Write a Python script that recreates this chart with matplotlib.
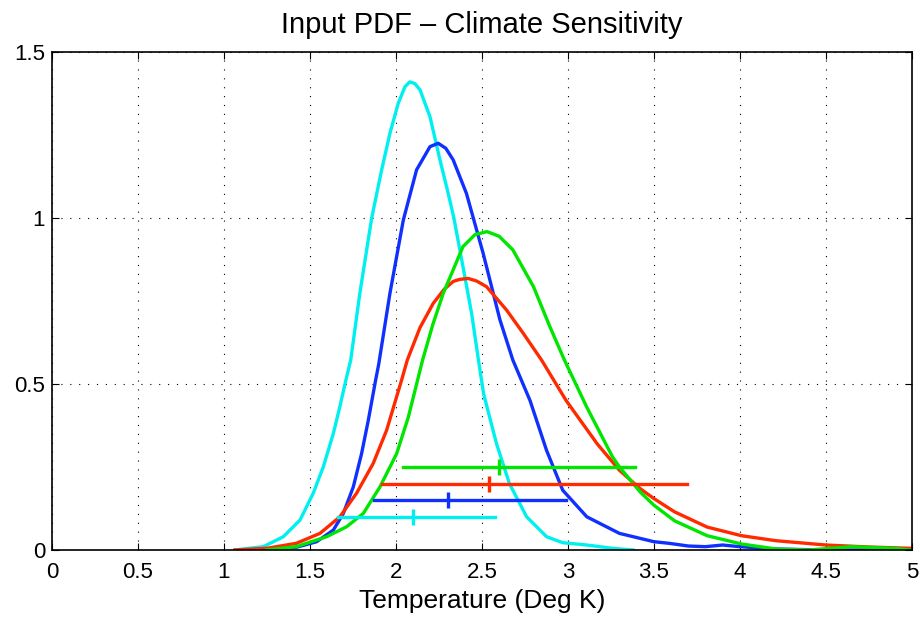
import numpy as np
import matplotlib
matplotlib.use("Agg")
import matplotlib.pyplot as plt

plt.rcParams['font.family'] = ['Liberation Sans', 'DejaVu Sans']

# pdf curves
cyan_x = [1.064, 1.229, 1.345, 1.442, 1.519, 1.578, 1.636, 1.674, 1.709, 1.737, 1.79, 1.859, 1.917,
          1.965, 2.013, 2.052, 2.08, 2.11, 2.14, 2.198, 2.256, 2.304, 2.337, 2.39, 2.44, 2.48, 2.51,
          2.585, 2.66, 2.76, 2.876, 2.97, 3.11, 3.26, 3.38]
cyan_y = [0.0, 0.01, 0.04, 0.09, 0.171, 0.251, 0.351, 0.432, 0.512, 0.572, 0.773, 1.0, 1.145,
          1.255, 1.345, 1.395, 1.41, 1.405, 1.386, 1.305, 1.175, 1.074, 1.0, 0.853, 0.713, 0.572, 0.47,
          0.32, 0.20, 0.10, 0.04, 0.022, 0.015, 0.005, 0.0]

blue_x = [1.1, 1.3, 1.42, 1.539, 1.636, 1.694, 1.752, 1.80, 1.839, 1.882, 1.90, 1.965, 2.043, 2.12,
          2.198, 2.246, 2.29, 2.333, 2.41, 2.507, 2.605, 2.68, 2.78, 2.876, 2.97, 3.11, 3.30, 3.50,
          3.59, 3.7, 3.8, 3.9, 4.0, 4.2, 4.5, 5.0]
blue_y = [0.0, 0.003, 0.008, 0.025, 0.06, 0.11, 0.19, 0.29, 0.39, 0.512, 0.56, 0.773, 0.994, 1.145,
          1.215, 1.225, 1.21, 1.175, 1.074, 0.894, 0.693, 0.572, 0.45, 0.30, 0.18, 0.10, 0.05, 0.025,
          0.02, 0.012, 0.01, 0.015, 0.01, 0.003, 0.0, 0.0]

red_x = [1.064, 1.248, 1.42, 1.558, 1.674, 1.771, 1.868, 1.946, 2.033, 2.066, 2.14, 2.217, 2.28,
         2.333, 2.37, 2.42, 2.47, 2.527, 2.643, 2.74, 2.847, 2.99, 3.17, 3.30, 3.42, 3.50, 3.62,
         3.81, 4.01, 4.21, 4.5, 4.75, 5.0]
red_y = [0.0, 0.005, 0.02, 0.05, 0.10, 0.171, 0.261, 0.361, 0.512, 0.572, 0.67, 0.743, 0.785,
         0.809, 0.815, 0.818, 0.81, 0.793, 0.723, 0.653, 0.572, 0.45, 0.32, 0.24, 0.185, 0.155, 0.115,
         0.069, 0.043, 0.028, 0.015, 0.009, 0.005]

green_x = [1.248, 1.42, 1.597, 1.713, 1.81, 1.907, 2.004, 2.072, 2.126, 2.155, 2.215, 2.275, 2.39,
           2.46, 2.53, 2.60, 2.68, 2.80, 2.895, 2.98, 3.11, 3.26, 3.30, 3.38, 3.42, 3.50, 3.62, 3.81,
           4.01, 4.21, 4.4, 4.65, 4.9, 5.0]
green_y = [0.0, 0.01, 0.04, 0.07, 0.11, 0.19, 0.29, 0.40, 0.512, 0.572, 0.68, 0.773, 0.914,
           0.95, 0.959, 0.945, 0.904, 0.793, 0.673, 0.572, 0.43, 0.28, 0.25, 0.20, 0.175, 0.135, 0.088,
           0.043, 0.018, 0.003, 0.0, 0.01, 0.005, 0.0]

# range bars: (low, median, high) at given height
bar_names = ['green', 'red', 'blue', 'cyan']
bar_level = [0.25, 0.20, 0.15, 0.10]
bar_low = [2.04, 1.92, 1.87, 1.665]
bar_med = [2.60, 2.54, 2.30, 2.10]
bar_high = [3.39, 3.69, 2.99, 2.576]

colors = {'cyan': '#00f0f0', 'blue': '#1030ff', 'red': '#ff2a00', 'green': '#00e600'}

fig = plt.figure(figsize=(9.21, 6.17), dpi=100)
ax = fig.add_axes([0.0565, 0.1086, 0.9335, 0.8071])

lw = 2.4
ax.plot(cyan_x, cyan_y, color=colors['cyan'], lw=lw, solid_joinstyle='round')
ax.plot(blue_x, blue_y, color=colors['blue'], lw=lw, solid_joinstyle='round')
ax.plot(red_x, red_y, color=colors['red'], lw=lw, solid_joinstyle='round')
ax.plot(green_x, green_y, color=colors['green'], lw=lw, solid_joinstyle='round')

for name, yv, lo, md, hi in zip(bar_names, bar_level, bar_low, bar_med, bar_high):
    ax.plot([lo, hi], [yv, yv], color=colors[name], lw=lw)
    ax.plot([md], [yv], marker='|', color=colors[name], ms=12, mew=2.4)

ax.set_xlim(0, 5)
ax.set_ylim(0, 1.5)
ax.set_xticks(np.arange(0, 5.01, 0.5))
ax.set_xticklabels(['0', '0.5', '1', '1.5', '2', '2.5', '3', '3.5', '4', '4.5', '5'])
ax.set_yticks([0, 0.5, 1, 1.5])
ax.set_yticklabels(['0', '0.5', '1', '1.5'])
ax.grid(True, color='black', linestyle=(0, (1, 7)), linewidth=0.8)
ax.tick_params(direction='in', top=True, right=True, length=5, labelsize=16)
ax.tick_params(axis='x', pad=9)
ax.tick_params(axis='y', pad=5)
for s in ax.spines.values():
    s.set_linewidth(1.2)

ax.set_title('Input PDF \u2013 Climate Sensitivity', fontsize=21, pad=14)
ax.set_xlabel('Temperature (Deg K)', fontsize=19, labelpad=4)

fig.savefig('out.png', dpi=100)
